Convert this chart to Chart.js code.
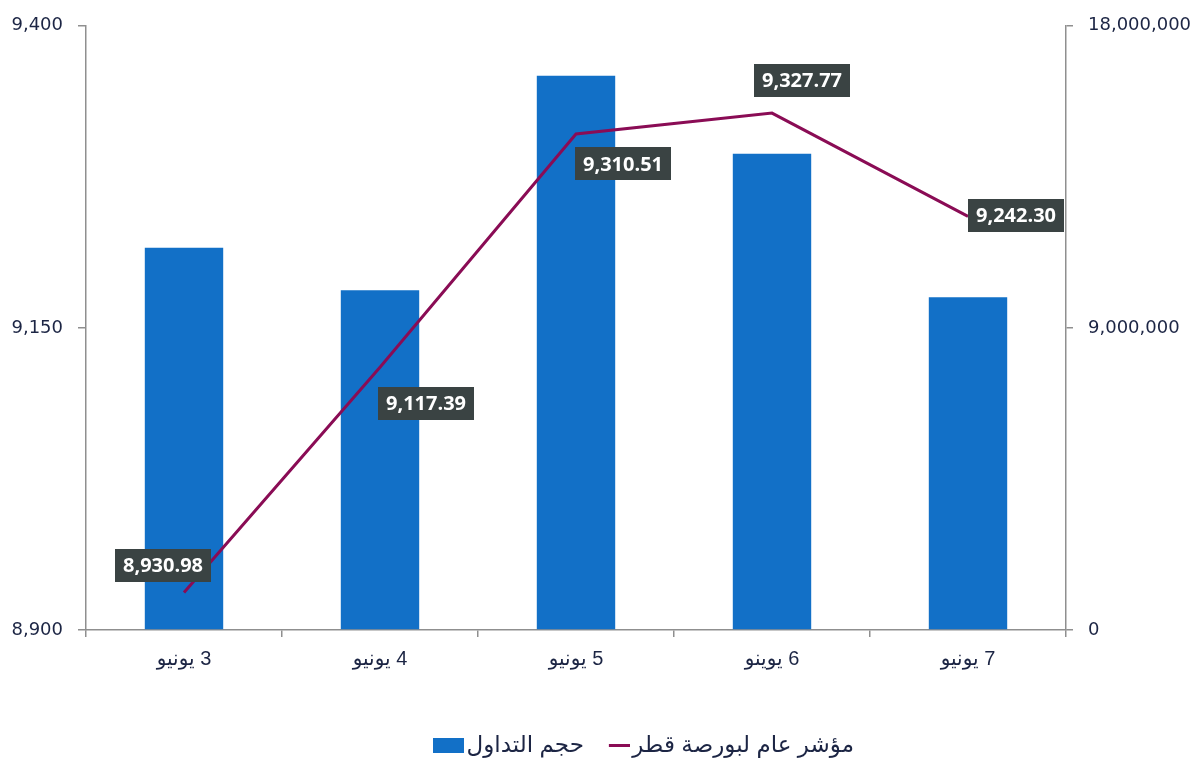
<!DOCTYPE html>
<html>
<head>
<meta charset="utf-8">
<script src="https://cdn.jsdelivr.net/npm/chart.js@4.4.1/dist/chart.umd.min.js"></script>
<style>
html,body{margin:0;padding:0;background:#fff;}
#wrap{width:1200px;height:784px;position:relative;}
</style>
</head>
<body>
<div id="wrap"><canvas id="c" width="1200" height="784" dir="rtl"></canvas></div>
<script>
const categories = ['3 يونيو', '4 يونيو', '5 يونيو', '6 يوينو', '7 يونيو'];
const indexValues = [8930.98, 9117.39, 9310.51, 9327.77, 9242.30];
const volumeValues = [11390000, 10120000, 16510000, 14190000, 9910000];
const leftTicks = [8900, 9150, 9400];
const rightTicks = [0, 9000000, 18000000];
const seriesNames = ['حجم التداول', 'مؤشر عام لبورصة قطر'];

const BLUE = '#1270c7';
const MAROON = '#8a0c55';
const TEXT = '#1c2544';
const AXIS = '#8f8f8f';
const SANS = 'Arial, "Liberation Sans", "DejaVu Sans", sans-serif';

function makeIcon(w, h, x0, lw, lh, color) {
  const cv = document.createElement('canvas');
  cv.width = w; cv.height = h;
  const c = cv.getContext('2d');
  c.fillStyle = color; c.fillRect(x0, (h - lh) / 2, lw, lh);
  return cv;
}
const boxIcon = makeIcon(49, 15, 18, 31, 15, BLUE);
const lineIcon = makeIcon(49, 15, 28, 21, 3, MAROON);

const labelOffsets = [[-21, -27], [46, 36], [47, 30], [30, -33], [48, -1]];
const valueLabels = {
  id: 'valueLabels',
  afterDatasetsDraw(chart) {
    const meta = chart.getDatasetMeta(1);
    const ctx = chart.ctx;
    ctx.save();
    ctx.direction = 'ltr';
    ctx.font = 'bold 20px "Open Sans", "DejaVu Sans", sans-serif';
    ctx.textAlign = 'center';
    ctx.textBaseline = 'middle';
    meta.data.forEach((pt, i) => {
      const txt = indexValues[i].toLocaleString('en-US', {minimumFractionDigits: 2, maximumFractionDigits: 2});
      const w = ctx.measureText(txt).width + 16;
      const h = 33;
      const cx = pt.x + labelOffsets[i][0];
      const cy = pt.y + labelOffsets[i][1];
      ctx.fillStyle = '#3a4343';
      ctx.fillRect(Math.round(cx - w / 2), Math.round(cy - h / 2), Math.round(w), h);
      ctx.fillStyle = '#ffffff';
      ctx.fillText(txt, cx, cy + 1);
    });
    ctx.restore();
  }
};

const legendShift = {
  id: 'legendShift',
  afterLayout(chart) {
    if (chart.legend) { chart.legend.left += 39; chart.legend.right += 39; }
  }
};

new Chart(document.getElementById('c'), {
  data: {
    labels: categories,
    datasets: [
      {
        type: 'bar',
        label: seriesNames[0],
        data: volumeValues,
        backgroundColor: BLUE,
        yAxisID: 'yR',
        order: 1,
        barPercentage: 0.4,
        categoryPercentage: 1.0
      },
      {
        type: 'line',
        label: seriesNames[1],
        data: indexValues,
        borderColor: MAROON,
        borderWidth: 3,
        pointRadius: 0,
        tension: 0,
        yAxisID: 'yL',
        order: 0
      }
    ]
  },
  options: {
    responsive: false,
    animation: false,
    layout: {padding: {top: 25, bottom: 17, left: 0, right: 0}},
    plugins: {
      tooltip: {enabled: false},
      legend: {
        position: 'bottom',
        labels: {
          usePointStyle: true,
          pointStyleWidth: 31,
          boxHeight: 15,
          padding: 6,
          color: TEXT,
          font: {family: SANS, size: 23},
          sort: (a, b) => a.datasetIndex - b.datasetIndex,
          generateLabels(chart) {
            return chart.data.datasets.map((ds, i) => ({
              text: ds.label,
              datasetIndex: i,
              fillStyle: i === 0 ? BLUE : MAROON,
              strokeStyle: i === 0 ? BLUE : MAROON,
              lineWidth: 0,
              pointStyle: i === 0 ? boxIcon : lineIcon,
              fontColor: TEXT,
              hidden: false
            }));
          }
        }
      }
    },
    scales: {
      x: {
        grid: {offset: true, drawOnChartArea: false, tickLength: 7, color: AXIS, lineWidth: 1.5},
        border: {color: AXIS, width: 1.5},
        ticks: {
          color: TEXT,
          padding: 10,
          font: {family: SANS, size: 20}
        },
        afterFit(s) { s.height = 98; }
      },
      yL: {
        position: 'left',
        min: 8900, max: 9400,
        afterBuildTicks(s) { s.ticks = leftTicks.map(v => ({value: v})); },
        grid: {drawOnChartArea: false, tickLength: 8, color: AXIS, lineWidth: 1.5},
        border: {color: AXIS, width: 1.5},
        ticks: {
          color: TEXT,
          padding: 15,
          font: {family: '"DejaVu Sans", sans-serif', size: 18},
          callback: v => Number(v).toLocaleString('en-US')
        },
        afterFit(s) { s.width = 86; }
      },
      yR: {
        position: 'right',
        min: 0, max: 18000000,
        afterBuildTicks(s) { s.ticks = rightTicks.map(v => ({value: v})); },
        grid: {drawOnChartArea: false, tickLength: 7, color: AXIS, lineWidth: 1.5},
        border: {color: AXIS, width: 1.5},
        ticks: {
          color: TEXT,
          padding: 15,
          font: {family: '"DejaVu Sans", sans-serif', size: 18},
          callback: v => Number(v).toLocaleString('en-US')
        },
        afterFit(s) { s.width = 134; }
      }
    }
  },
  plugins: [valueLabels, legendShift]
});
</script>
</body>
</html>
